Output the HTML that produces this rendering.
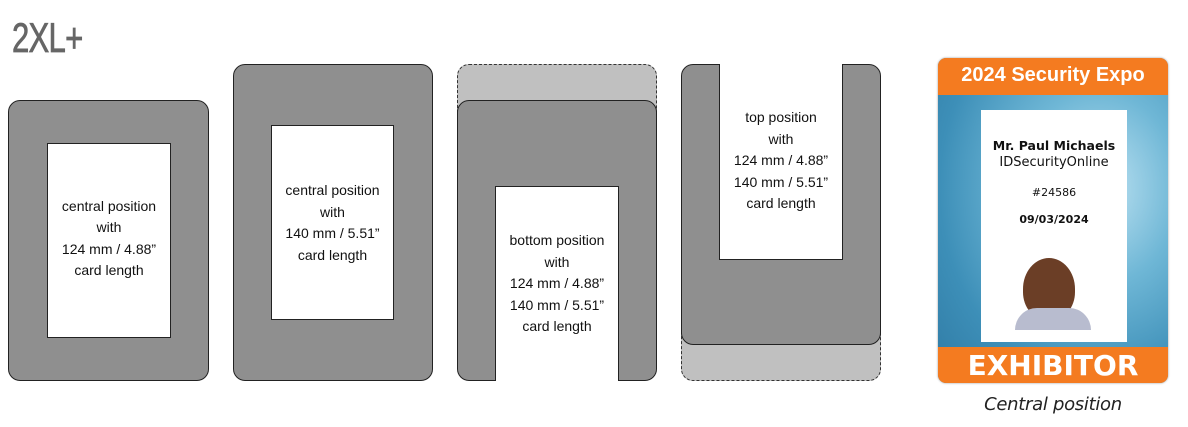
<!DOCTYPE html>
<html><head><meta charset="utf-8"><style>
*{margin:0;padding:0;box-sizing:border-box}
body{width:1188px;height:427px;background:#fff;position:relative;overflow:hidden;font-family:"Liberation Sans",sans-serif}
.a{position:absolute}
.dk{background:#8f8f8f;border:1.5px solid #222;border-radius:12px}
.lt{background:#c0c0c0;border:1.5px dashed #333;border-radius:12px}
.w{background:#fff;border:1.5px solid #222;display:flex;flex-direction:column;justify-content:center;align-items:center;text-align:center;font-size:14px;line-height:21.5px;color:#111}
</style></head><body>
<div class="a" style="left:12px;top:14px;font-family:'Liberation Sans',sans-serif;font-size:42px;color:#666;transform:scaleX(0.74);transform-origin:left top;letter-spacing:-1px;-webkit-text-stroke:0.8px #666">2XL+</div>

<div class="a dk" style="left:8px;top:100px;width:201px;height:281px"></div>
<div class="a w" style="left:47px;top:143px;width:124px;height:195px;padding-bottom:4px">central position<br>with<br>124 mm / 4.88”<br>card length</div>

<div class="a dk" style="left:233px;top:64px;width:200px;height:317px"></div>
<div class="a w" style="left:271px;top:125px;width:123px;height:195px;justify-content:flex-start;padding-top:54px">central position<br>with<br>140 mm / 5.51”<br>card length</div>

<div class="a lt" style="left:457px;top:64px;width:200px;height:60px"></div>
<div class="a dk" style="left:457px;top:100px;width:200px;height:281px"></div>
<div class="a w" style="left:495px;top:186px;width:124px;height:195px;border-bottom:none">bottom position<br>with<br>124 mm / 4.88”<br>140 mm / 5.51”<br>card length</div>

<div class="a lt" style="left:681px;top:320px;width:200px;height:61px"></div>
<div class="a dk" style="left:681px;top:64px;width:200px;height:281px"></div>
<div class="a w" style="left:719px;top:64px;width:124px;height:196px;border-top:none;justify-content:flex-start;padding-top:43px">top position<br>with<br>124 mm / 4.88”<br>140 mm / 5.51”<br>card length</div>

<div class="a" style="left:938px;top:58px;width:230px;height:325px;border-radius:8px;overflow:hidden;background:radial-gradient(ellipse at 70% 40%,#bfe3f2 0%,#6fb7d6 35%,#3d8fb8 70%,#2f7aa4 100%);box-shadow:0 0 2px #999">
  <div class="a" style="left:0;top:0;width:230px;height:37px;background:#f47b20;color:#fff;font-weight:bold;font-size:20px;text-align:center;line-height:34px">2024 Security Expo</div>
  <div class="a" style="left:43px;top:52px;width:146px;height:232px;background:#fff;text-align:center;color:#111;font-family:'DejaVu Sans',sans-serif">
    <div style="margin-top:28px;font-weight:bold;font-size:12.5px;line-height:16px">Mr. Paul Michaels</div>
    <div style="font-size:13px;line-height:17px">IDSecurityOnline</div>
    <div style="margin-top:15px;font-size:11px">#24586</div>
    <div style="margin-top:14px;font-size:11px;font-weight:bold">09/03/2024</div>
    <div style="position:absolute;left:42px;top:148px;width:52px;height:62px;border-radius:50% 50% 45% 45%;background:#6b3e26"></div>
    <div style="position:absolute;left:34px;top:198px;width:76px;height:22px;border-radius:30px 30px 0 0;background:#b8bccf"></div>
  </div>
  <div class="a" style="left:0;top:289px;width:230px;height:36px;background:#f47b20;color:#fff;font-weight:bold;font-size:28px;text-align:center;line-height:38px;font-family:'DejaVu Sans',sans-serif">EXHIBITOR</div>
</div>
<div class="a" style="left:938px;top:394px;width:230px;text-align:center;font-style:italic;font-size:18px;color:#222;font-family:'DejaVu Sans',sans-serif;letter-spacing:-0.3px">Central position</div>
</body></html>
